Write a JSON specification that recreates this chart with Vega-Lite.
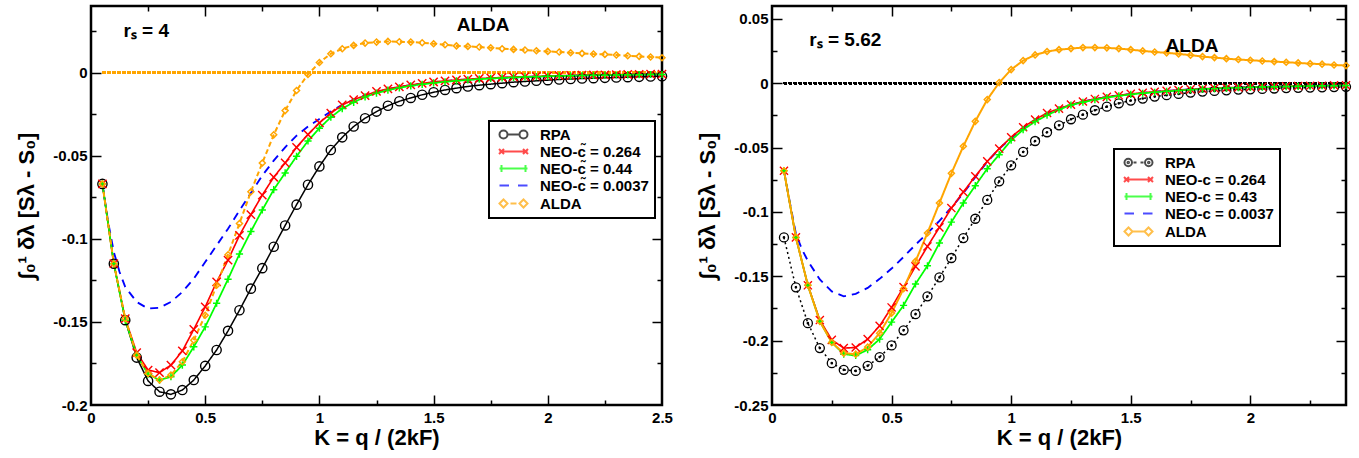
{
"$schema": "https://vega.github.io/schema/vega-lite/v6.json",
"padding": {"left": 14, "top": 4, "right": 5, "bottom": 5},
"spacing": 21,
"resolve": {"scale": {"color": "independent", "strokeDash": "independent", "strokeWidth": "independent", "shape": "independent", "size": "independent"}, "legend": {"color": "independent", "shape": "independent"}},
"config": {
  "font": "Liberation Sans",
  "view": {"stroke": "black", "strokeWidth": 2.5},
  "axis": {"labelFont": "Liberation Sans", "labelFontSize": 15, "labelFontWeight": "bold", "labelColor": "black", "titleFont": "Liberation Sans", "titleFontSize": 22, "titleFontWeight": "bold", "titleColor": "black", "tickColor": "black", "tickWidth": 1.5, "zindex": 2, "domain": false, "grid": false, "labelFlush": false, "labelOverlap": false, "labelBound": false},
  "legend": {"strokeWidth": 2}
},
"datasets": {
"left": [
{"s":"R","K":0.05,"v":-0.067},{"s":"R","K":0.1,"v":-0.115},{"s":"R","K":0.15,"v":-0.149},{"s":"R","K":0.2,"v":-0.1715},{"s":"R","K":0.25,"v":-0.1855},{"s":"R","K":0.3,"v":-0.192},{"s":"R","K":0.35,"v":-0.1936},{"s":"R","K":0.4,"v":-0.191},{"s":"R","K":0.45,"v":-0.185},{"s":"R","K":0.5,"v":-0.1765},{"s":"R","K":0.55,"v":-0.1669},{"s":"R","K":0.6,"v":-0.1554},{"s":"R","K":0.65,"v":-0.143},{"s":"R","K":0.7,"v":-0.13},{"s":"R","K":0.75,"v":-0.1177},{"s":"R","K":0.8,"v":-0.1048},{"s":"R","K":0.85,"v":-0.092},{"s":"R","K":0.9,"v":-0.0795},{"s":"R","K":0.95,"v":-0.0675},{"s":"R","K":1,"v":-0.0565},{"s":"R","K":1.05,"v":-0.0466},{"s":"R","K":1.1,"v":-0.039},{"s":"R","K":1.15,"v":-0.0325},{"s":"R","K":1.2,"v":-0.0275},{"s":"R","K":1.25,"v":-0.0235},{"s":"R","K":1.3,"v":-0.02},{"s":"R","K":1.35,"v":-0.0173},{"s":"R","K":1.4,"v":-0.0153},{"s":"R","K":1.45,"v":-0.0134},{"s":"R","K":1.5,"v":-0.0119},{"s":"R","K":1.55,"v":-0.0105},{"s":"R","K":1.6,"v":-0.0094},{"s":"R","K":1.65,"v":-0.0084},{"s":"R","K":1.7,"v":-0.0076},{"s":"R","K":1.75,"v":-0.007},{"s":"R","K":1.8,"v":-0.0064},{"s":"R","K":1.85,"v":-0.0058},{"s":"R","K":1.9,"v":-0.0054},{"s":"R","K":1.95,"v":-0.005},{"s":"R","K":2,"v":-0.0046},{"s":"R","K":2.05,"v":-0.0042},{"s":"R","K":2.1,"v":-0.0039},{"s":"R","K":2.15,"v":-0.0036},{"s":"R","K":2.2,"v":-0.0034},{"s":"R","K":2.25,"v":-0.0032},{"s":"R","K":2.3,"v":-0.003},{"s":"R","K":2.35,"v":-0.0028},{"s":"R","K":2.4,"v":-0.0026},{"s":"R","K":2.45,"v":-0.0024},{"s":"R","K":2.5,"v":-0.0022},
{"s":"C","K":0.05,"v":-0.067},{"s":"C","K":0.075,"v":-0.09},{"s":"C","K":0.1,"v":-0.108},{"s":"C","K":0.125,"v":-0.12},{"s":"C","K":0.15,"v":-0.129},{"s":"C","K":0.2,"v":-0.138},{"s":"C","K":0.25,"v":-0.142},{"s":"C","K":0.3,"v":-0.1415},{"s":"C","K":0.35,"v":-0.138},{"s":"C","K":0.4,"v":-0.132},{"s":"C","K":0.45,"v":-0.124},{"s":"C","K":0.5,"v":-0.114},{"s":"C","K":0.55,"v":-0.104},{"s":"C","K":0.6,"v":-0.094},{"s":"C","K":0.65,"v":-0.083},{"s":"C","K":0.7,"v":-0.0725},{"s":"C","K":0.75,"v":-0.062},{"s":"C","K":0.8,"v":-0.053},{"s":"C","K":0.85,"v":-0.045},{"s":"C","K":0.9,"v":-0.038},{"s":"C","K":0.95,"v":-0.0325},{"s":"C","K":1,"v":-0.028},{"s":"C","K":1.05,"v":-0.0235},{"s":"C","K":1.1,"v":-0.0195},{"s":"C","K":1.15,"v":-0.0163},{"s":"C","K":1.2,"v":-0.0138},{"s":"C","K":1.3,"v":-0.01},{"s":"C","K":1.4,"v":-0.0076},{"s":"C","K":1.5,"v":-0.0058},{"s":"C","K":1.6,"v":-0.0046},{"s":"C","K":1.75,"v":-0.0034},{"s":"C","K":2,"v":-0.0022},{"s":"C","K":2.25,"v":-0.0015},{"s":"C","K":2.5,"v":-0.001},
{"s":"A","K":0.05,"v":-0.067},{"s":"A","K":0.1,"v":-0.115},{"s":"A","K":0.15,"v":-0.148},{"s":"A","K":0.2,"v":-0.1685},{"s":"A","K":0.25,"v":-0.179},{"s":"A","K":0.3,"v":-0.1805},{"s":"A","K":0.35,"v":-0.176},{"s":"A","K":0.4,"v":-0.1675},{"s":"A","K":0.45,"v":-0.1545},{"s":"A","K":0.5,"v":-0.141},{"s":"A","K":0.55,"v":-0.126},{"s":"A","K":0.6,"v":-0.1128},{"s":"A","K":0.65,"v":-0.098},{"s":"A","K":0.7,"v":-0.0855},{"s":"A","K":0.75,"v":-0.0737},{"s":"A","K":0.8,"v":-0.063},{"s":"A","K":0.85,"v":-0.0544},{"s":"A","K":0.9,"v":-0.045},{"s":"A","K":0.95,"v":-0.0373},{"s":"A","K":1,"v":-0.0303},{"s":"A","K":1.05,"v":-0.0245},{"s":"A","K":1.1,"v":-0.0195},{"s":"A","K":1.15,"v":-0.0163},{"s":"A","K":1.2,"v":-0.0139},{"s":"A","K":1.25,"v":-0.0114},{"s":"A","K":1.3,"v":-0.0098},{"s":"A","K":1.35,"v":-0.0086},{"s":"A","K":1.4,"v":-0.0075},{"s":"A","K":1.45,"v":-0.0065},{"s":"A","K":1.5,"v":-0.0057},{"s":"A","K":1.55,"v":-0.005},{"s":"A","K":1.6,"v":-0.0045},{"s":"A","K":1.65,"v":-0.004},{"s":"A","K":1.7,"v":-0.0036},{"s":"A","K":1.75,"v":-0.0033},{"s":"A","K":1.8,"v":-0.003},{"s":"A","K":1.85,"v":-0.0027},{"s":"A","K":1.9,"v":-0.0025},{"s":"A","K":1.95,"v":-0.0023},{"s":"A","K":2,"v":-0.0021},{"s":"A","K":2.05,"v":-0.0019},{"s":"A","K":2.1,"v":-0.0018},{"s":"A","K":2.15,"v":-0.0016},{"s":"A","K":2.2,"v":-0.0015},{"s":"A","K":2.25,"v":-0.0014},{"s":"A","K":2.3,"v":-0.0013},{"s":"A","K":2.35,"v":-0.0012},{"s":"A","K":2.4,"v":-0.0011},{"s":"A","K":2.45,"v":-0.001},{"s":"A","K":2.5,"v":-0.001},
{"s":"B","K":0.05,"v":-0.067},{"s":"B","K":0.1,"v":-0.115},{"s":"B","K":0.15,"v":-0.149},{"s":"B","K":0.2,"v":-0.17},{"s":"B","K":0.25,"v":-0.1815},{"s":"B","K":0.3,"v":-0.185},{"s":"B","K":0.35,"v":-0.183},{"s":"B","K":0.4,"v":-0.176},{"s":"B","K":0.45,"v":-0.165},{"s":"B","K":0.5,"v":-0.153},{"s":"B","K":0.55,"v":-0.1388},{"s":"B","K":0.6,"v":-0.1243},{"s":"B","K":0.65,"v":-0.1092},{"s":"B","K":0.7,"v":-0.0956},{"s":"B","K":0.75,"v":-0.0827},{"s":"B","K":0.8,"v":-0.0705},{"s":"B","K":0.85,"v":-0.0604},{"s":"B","K":0.9,"v":-0.0504},{"s":"B","K":0.95,"v":-0.0412},{"s":"B","K":1,"v":-0.0335},{"s":"B","K":1.05,"v":-0.0269},{"s":"B","K":1.1,"v":-0.0217},{"s":"B","K":1.15,"v":-0.0179},{"s":"B","K":1.2,"v":-0.0147},{"s":"B","K":1.25,"v":-0.0124},{"s":"B","K":1.3,"v":-0.0106},{"s":"B","K":1.35,"v":-0.0092},{"s":"B","K":1.4,"v":-0.008},{"s":"B","K":1.45,"v":-0.0071},{"s":"B","K":1.5,"v":-0.0063},{"s":"B","K":1.55,"v":-0.0056},{"s":"B","K":1.6,"v":-0.005},{"s":"B","K":1.65,"v":-0.0045},{"s":"B","K":1.7,"v":-0.004},{"s":"B","K":1.75,"v":-0.0036},{"s":"B","K":1.8,"v":-0.0033},{"s":"B","K":1.85,"v":-0.003},{"s":"B","K":1.9,"v":-0.0027},{"s":"B","K":1.95,"v":-0.0025},{"s":"B","K":2,"v":-0.0023},{"s":"B","K":2.05,"v":-0.0021},{"s":"B","K":2.1,"v":-0.002},{"s":"B","K":2.15,"v":-0.0018},{"s":"B","K":2.2,"v":-0.0017},{"s":"B","K":2.25,"v":-0.0016},{"s":"B","K":2.3,"v":-0.0015},{"s":"B","K":2.35,"v":-0.0014},{"s":"B","K":2.4,"v":-0.0013},{"s":"B","K":2.45,"v":-0.0012},{"s":"B","K":2.5,"v":-0.0012},
{"s":"D","K":0.05,"v":-0.067},{"s":"D","K":0.1,"v":-0.115},{"s":"D","K":0.15,"v":-0.148},{"s":"D","K":0.2,"v":-0.17},{"s":"D","K":0.25,"v":-0.181},{"s":"D","K":0.3,"v":-0.185},{"s":"D","K":0.35,"v":-0.182},{"s":"D","K":0.4,"v":-0.174},{"s":"D","K":0.45,"v":-0.161},{"s":"D","K":0.5,"v":-0.146},{"s":"D","K":0.55,"v":-0.128},{"s":"D","K":0.6,"v":-0.1096},{"s":"D","K":0.65,"v":-0.0908},{"s":"D","K":0.7,"v":-0.0717},{"s":"D","K":0.75,"v":-0.0544},{"s":"D","K":0.8,"v":-0.0375},{"s":"D","K":0.85,"v":-0.0229},{"s":"D","K":0.9,"v":-0.0108},{"s":"D","K":0.95,"v":-0.0012},{"s":"D","K":1,"v":0.006},{"s":"D","K":1.05,"v":0.0113},{"s":"D","K":1.1,"v":0.0143},{"s":"D","K":1.15,"v":0.0163},{"s":"D","K":1.2,"v":0.0177},{"s":"D","K":1.25,"v":0.0183},{"s":"D","K":1.3,"v":0.0187},{"s":"D","K":1.35,"v":0.0185},{"s":"D","K":1.4,"v":0.0183},{"s":"D","K":1.45,"v":0.0179},{"s":"D","K":1.5,"v":0.0173},{"s":"D","K":1.55,"v":0.0167},{"s":"D","K":1.6,"v":0.016},{"s":"D","K":1.65,"v":0.0157},{"s":"D","K":1.7,"v":0.0153},{"s":"D","K":1.75,"v":0.0149},{"s":"D","K":1.8,"v":0.0143},{"s":"D","K":1.85,"v":0.0139},{"s":"D","K":1.9,"v":0.0135},{"s":"D","K":1.95,"v":0.0131},{"s":"D","K":2,"v":0.0127},{"s":"D","K":2.05,"v":0.0123},{"s":"D","K":2.1,"v":0.0119},{"s":"D","K":2.15,"v":0.0115},{"s":"D","K":2.2,"v":0.0111},{"s":"D","K":2.25,"v":0.0109},{"s":"D","K":2.3,"v":0.0105},{"s":"D","K":2.35,"v":0.0101},{"s":"D","K":2.4,"v":0.0097},{"s":"D","K":2.45,"v":0.0093},{"s":"D","K":2.5,"v":0.0089}
],
"right": [
{"s":"R","K":0.05,"v":-0.1198},{"s":"R","K":0.1,"v":-0.1586},{"s":"R","K":0.15,"v":-0.1864},{"s":"R","K":0.2,"v":-0.2058},{"s":"R","K":0.25,"v":-0.2175},{"s":"R","K":0.3,"v":-0.2227},{"s":"R","K":0.35,"v":-0.2235},{"s":"R","K":0.4,"v":-0.2196},{"s":"R","K":0.45,"v":-0.2128},{"s":"R","K":0.5,"v":-0.2037},{"s":"R","K":0.55,"v":-0.192},{"s":"R","K":0.6,"v":-0.1794},{"s":"R","K":0.65,"v":-0.1656},{"s":"R","K":0.7,"v":-0.1509},{"s":"R","K":0.75,"v":-0.1358},{"s":"R","K":0.8,"v":-0.1203},{"s":"R","K":0.85,"v":-0.1053},{"s":"R","K":0.9,"v":-0.0907},{"s":"R","K":0.95,"v":-0.0762},{"s":"R","K":1,"v":-0.0638},{"s":"R","K":1.05,"v":-0.0534},{"s":"R","K":1.1,"v":-0.0449},{"s":"R","K":1.15,"v":-0.0381},{"s":"R","K":1.2,"v":-0.0327},{"s":"R","K":1.25,"v":-0.028},{"s":"R","K":1.3,"v":-0.0244},{"s":"R","K":1.35,"v":-0.021},{"s":"R","K":1.4,"v":-0.0182},{"s":"R","K":1.45,"v":-0.0156},{"s":"R","K":1.5,"v":-0.0135},{"s":"R","K":1.55,"v":-0.0119},{"s":"R","K":1.6,"v":-0.0104},{"s":"R","K":1.65,"v":-0.0093},{"s":"R","K":1.7,"v":-0.0083},{"s":"R","K":1.75,"v":-0.0073},{"s":"R","K":1.8,"v":-0.0065},{"s":"R","K":1.85,"v":-0.006},{"s":"R","K":1.9,"v":-0.0055},{"s":"R","K":1.95,"v":-0.0049},{"s":"R","K":2,"v":-0.0047},{"s":"R","K":2.05,"v":-0.0044},{"s":"R","K":2.1,"v":-0.0041},{"s":"R","K":2.15,"v":-0.0038},{"s":"R","K":2.2,"v":-0.0036},{"s":"R","K":2.25,"v":-0.0034},{"s":"R","K":2.3,"v":-0.0032},{"s":"R","K":2.35,"v":-0.003},{"s":"R","K":2.4,"v":-0.0028},
{"s":"C","K":0.05,"v":-0.068},{"s":"C","K":0.075,"v":-0.093},{"s":"C","K":0.1,"v":-0.117},{"s":"C","K":0.125,"v":-0.129},{"s":"C","K":0.15,"v":-0.138},{"s":"C","K":0.2,"v":-0.1525},{"s":"C","K":0.25,"v":-0.1617},{"s":"C","K":0.3,"v":-0.1656},{"s":"C","K":0.35,"v":-0.1636},{"s":"C","K":0.4,"v":-0.159},{"s":"C","K":0.45,"v":-0.152},{"s":"C","K":0.5,"v":-0.144},{"s":"C","K":0.55,"v":-0.135},{"s":"C","K":0.6,"v":-0.1255},{"s":"C","K":0.65,"v":-0.1165},{"s":"C","K":0.7,"v":-0.107},{"s":"C","K":0.75,"v":-0.0965},{"s":"C","K":0.8,"v":-0.0855},{"s":"C","K":0.85,"v":-0.073},{"s":"C","K":0.9,"v":-0.061},{"s":"C","K":0.95,"v":-0.051},{"s":"C","K":1,"v":-0.0425},{"s":"C","K":1.05,"v":-0.035},{"s":"C","K":1.1,"v":-0.0285},{"s":"C","K":1.15,"v":-0.0235},{"s":"C","K":1.2,"v":-0.0198},{"s":"C","K":1.3,"v":-0.0142},{"s":"C","K":1.4,"v":-0.0106},{"s":"C","K":1.5,"v":-0.0083},{"s":"C","K":1.6,"v":-0.0066},{"s":"C","K":1.75,"v":-0.0048},{"s":"C","K":2,"v":-0.003},{"s":"C","K":2.2,"v":-0.0022},{"s":"C","K":2.4,"v":-0.0016},
{"s":"A","K":0.05,"v":-0.068},{"s":"A","K":0.1,"v":-0.1198},{"s":"A","K":0.15,"v":-0.157},{"s":"A","K":0.2,"v":-0.184},{"s":"A","K":0.25,"v":-0.1994},{"s":"A","K":0.3,"v":-0.2058},{"s":"A","K":0.35,"v":-0.2053},{"s":"A","K":0.4,"v":-0.1988},{"s":"A","K":0.45,"v":-0.1885},{"s":"A","K":0.5,"v":-0.1742},{"s":"A","K":0.55,"v":-0.1584},{"s":"A","K":0.6,"v":-0.1423},{"s":"A","K":0.65,"v":-0.1268},{"s":"A","K":0.7,"v":-0.112},{"s":"A","K":0.75,"v":-0.097},{"s":"A","K":0.8,"v":-0.0845},{"s":"A","K":0.85,"v":-0.0723},{"s":"A","K":0.9,"v":-0.0607},{"s":"A","K":0.95,"v":-0.0508},{"s":"A","K":1,"v":-0.042},{"s":"A","K":1.05,"v":-0.0342},{"s":"A","K":1.1,"v":-0.0282},{"s":"A","K":1.15,"v":-0.0231},{"s":"A","K":1.2,"v":-0.0197},{"s":"A","K":1.25,"v":-0.0166},{"s":"A","K":1.3,"v":-0.0142},{"s":"A","K":1.35,"v":-0.0122},{"s":"A","K":1.4,"v":-0.0106},{"s":"A","K":1.45,"v":-0.0094},{"s":"A","K":1.5,"v":-0.0083},{"s":"A","K":1.55,"v":-0.0074},{"s":"A","K":1.6,"v":-0.0066},{"s":"A","K":1.65,"v":-0.0059},{"s":"A","K":1.7,"v":-0.0053},{"s":"A","K":1.75,"v":-0.0048},{"s":"A","K":1.8,"v":-0.0043},{"s":"A","K":1.85,"v":-0.0039},{"s":"A","K":1.9,"v":-0.0035},{"s":"A","K":1.95,"v":-0.0032},{"s":"A","K":2,"v":-0.003},{"s":"A","K":2.05,"v":-0.0028},{"s":"A","K":2.1,"v":-0.0026},{"s":"A","K":2.15,"v":-0.0024},{"s":"A","K":2.2,"v":-0.0022},{"s":"A","K":2.25,"v":-0.002},{"s":"A","K":2.3,"v":-0.0019},{"s":"A","K":2.35,"v":-0.0017},{"s":"A","K":2.4,"v":-0.0016},
{"s":"B","K":0.05,"v":-0.068},{"s":"B","K":0.1,"v":-0.1198},{"s":"B","K":0.15,"v":-0.157},{"s":"B","K":0.2,"v":-0.185},{"s":"B","K":0.25,"v":-0.2014},{"s":"B","K":0.3,"v":-0.2105},{"s":"B","K":0.35,"v":-0.2115},{"s":"B","K":0.4,"v":-0.2071},{"s":"B","K":0.45,"v":-0.1988},{"s":"B","K":0.5,"v":-0.1856},{"s":"B","K":0.55,"v":-0.1726},{"s":"B","K":0.6,"v":-0.156},{"s":"B","K":0.65,"v":-0.1418},{"s":"B","K":0.7,"v":-0.1242},{"s":"B","K":0.75,"v":-0.1079},{"s":"B","K":0.8,"v":-0.0931},{"s":"B","K":0.85,"v":-0.0796},{"s":"B","K":0.9,"v":-0.0664},{"s":"B","K":0.95,"v":-0.0555},{"s":"B","K":1,"v":-0.0443},{"s":"B","K":1.05,"v":-0.0361},{"s":"B","K":1.1,"v":-0.0298},{"s":"B","K":1.15,"v":-0.0249},{"s":"B","K":1.2,"v":-0.0205},{"s":"B","K":1.25,"v":-0.0169},{"s":"B","K":1.3,"v":-0.0148},{"s":"B","K":1.35,"v":-0.0128},{"s":"B","K":1.4,"v":-0.0111},{"s":"B","K":1.45,"v":-0.0098},{"s":"B","K":1.5,"v":-0.0087},{"s":"B","K":1.55,"v":-0.0078},{"s":"B","K":1.6,"v":-0.007},{"s":"B","K":1.65,"v":-0.0063},{"s":"B","K":1.7,"v":-0.0057},{"s":"B","K":1.75,"v":-0.0051},{"s":"B","K":1.8,"v":-0.0046},{"s":"B","K":1.85,"v":-0.0042},{"s":"B","K":1.9,"v":-0.0038},{"s":"B","K":1.95,"v":-0.0035},{"s":"B","K":2,"v":-0.0032},{"s":"B","K":2.05,"v":-0.003},{"s":"B","K":2.1,"v":-0.0028},{"s":"B","K":2.15,"v":-0.0026},{"s":"B","K":2.2,"v":-0.0024},{"s":"B","K":2.25,"v":-0.0022},{"s":"B","K":2.3,"v":-0.002},{"s":"B","K":2.35,"v":-0.0019},{"s":"B","K":2.4,"v":-0.0018},
{"s":"D","K":0.05,"v":-0.068},{"s":"D","K":0.1,"v":-0.1198},{"s":"D","K":0.15,"v":-0.157},{"s":"D","K":0.2,"v":-0.185},{"s":"D","K":0.25,"v":-0.2014},{"s":"D","K":0.3,"v":-0.2097},{"s":"D","K":0.35,"v":-0.2105},{"s":"D","K":0.4,"v":-0.205},{"s":"D","K":0.45,"v":-0.1942},{"s":"D","K":0.5,"v":-0.1786},{"s":"D","K":0.55,"v":-0.1597},{"s":"D","K":0.6,"v":-0.1384},{"s":"D","K":0.65,"v":-0.1164},{"s":"D","K":0.7,"v":-0.0931},{"s":"D","K":0.75,"v":-0.07},{"s":"D","K":0.8,"v":-0.049},{"s":"D","K":0.85,"v":-0.0296},{"s":"D","K":0.9,"v":-0.0127},{"s":"D","K":0.95,"v":0.0005},{"s":"D","K":1,"v":0.0106},{"s":"D","K":1.05,"v":0.0176},{"s":"D","K":1.1,"v":0.022},{"s":"D","K":1.15,"v":0.0246},{"s":"D","K":1.2,"v":0.0261},{"s":"D","K":1.25,"v":0.0269},{"s":"D","K":1.3,"v":0.0277},{"s":"D","K":1.35,"v":0.0277},{"s":"D","K":1.4,"v":0.0275},{"s":"D","K":1.45,"v":0.0269},{"s":"D","K":1.5,"v":0.0261},{"s":"D","K":1.55,"v":0.0251},{"s":"D","K":1.6,"v":0.0243},{"s":"D","K":1.65,"v":0.0236},{"s":"D","K":1.7,"v":0.0228},{"s":"D","K":1.75,"v":0.0218},{"s":"D","K":1.8,"v":0.0207},{"s":"D","K":1.85,"v":0.0199},{"s":"D","K":1.9,"v":0.0191},{"s":"D","K":1.95,"v":0.0184},{"s":"D","K":2,"v":0.0179},{"s":"D","K":2.05,"v":0.0173},{"s":"D","K":2.1,"v":0.0168},{"s":"D","K":2.15,"v":0.0163},{"s":"D","K":2.2,"v":0.0158},{"s":"D","K":2.25,"v":0.0152},{"s":"D","K":2.3,"v":0.0148},{"s":"D","K":2.35,"v":0.0142},{"s":"D","K":2.4,"v":0.0137}
]
},
"hconcat": [
{
  "width": 571, "height": 399,
  "data": {"name": "left"},
  "resolve": {"scale": {"color": "independent", "shape": "independent", "strokeWidth": "independent"}, "axis": {"x": "independent", "y": "independent"}},
  "layer": [
    {"mark": {"type": "rule", "color": "#ffa500", "strokeDash": [3, 2], "strokeWidth": 1.5},
     "encoding": {"x": {"datum": 0.05, "type": "quantitative", "scale": {"domain": [0, 2.5], "nice": false}, "axis": null}, "x2": {"datum": 2.5}, "y": {"datum": 0, "type": "quantitative", "scale": {"domain": [-0.2, 0.04], "nice": false}, "axis": null}}},
    {"mark": {"type": "line", "clip": true},
     "encoding": {
       "x": {"field": "K", "type": "quantitative", "scale": {"domain": [0, 2.5], "nice": false}, "axis": {"orient": "bottom", "values": [0, 0.5, 1, 1.5, 2, 2.5], "ticks": false, "labelPadding": 5, "labelExpr": "replace(format(datum.value, '.2~f'), '−', '-')", "title": "K = q / (2kF)", "titlePadding": 2}},
       "y": {"field": "v", "type": "quantitative", "scale": {"domain": [-0.2, 0.04], "nice": false}, "axis": {"orient": "left", "values": [0, -0.05, -0.1, -0.15, -0.2], "ticks": false, "labelPadding": 4, "labelExpr": "replace(format(datum.value, '.2~f'), '−', '-')", "title": "∫₀¹ δλ  [Sλ - S₀]", "titlePadding": 14}},
       "color": {"field": "s", "type": "nominal", "scale": {"domain": ["R", "A", "B", "C", "D"], "range": ["#000000", "#ff0000", "#00ff00", "#0000ff", "#ffa500"]}, "legend": null},
       "strokeDash": {"field": "s", "type": "nominal", "scale": {"domain": ["R", "A", "B", "C", "D"], "range": [[1, 0], [1, 0], [1, 0], [8, 6], [5, 3]]}, "legend": null},
       "strokeWidth": {"field": "s", "type": "nominal", "scale": {"domain": ["R", "A", "B", "C", "D"], "range": [1.5, 2, 2.5, 1.5, 1]}, "legend": null}
     }},
    {"transform": [{"filter": "datum.s != 'C'"}],
     "mark": {"type": "point", "filled": false, "opacity": 1},
     "encoding": {
       "x": {"field": "K", "type": "quantitative", "scale": {"domain": [0, 2.5], "nice": false}, "axis": {"orient": "top", "offset": -399, "values": [0.5, 1, 1.5, 2], "tickSize": 10, "labels": false, "title": null}},
       "y": {"field": "v", "type": "quantitative", "scale": {"domain": [-0.2, 0.04], "nice": false}, "axis": {"orient": "right", "offset": -571, "values": [0, -0.05, -0.1, -0.15], "tickSize": 10, "labels": false, "title": null}},
       "color": {"field": "s", "type": "nominal", "scale": {"domain": ["R", "A", "B", "C", "D"], "range": ["#000000", "#ff0000", "#00ff00", "#0000ff", "#ffa500"]}, "legend": null},
       "shape": {"field": "s", "type": "nominal", "scale": {"domain": ["R", "A", "B", "D"], "range": ["circle", "M -1 -1 L 1 1 M -1 1 L 1 -1", "M -1 0 L 1 0 M 0 -1 L 0 1", "diamond"]}, "legend": null},
       "size": {"field": "s", "type": "nominal", "scale": {"domain": ["R", "A", "B", "D"], "range": [85, 36, 49, 110]}, "legend": null},
       "strokeWidth": {"field": "s", "type": "nominal", "scale": {"domain": ["R", "A", "B", "D"], "range": [1.4, 1.5, 2.5, 1.5]}, "legend": null}
     }},
    {"data": {"values": [{"K": 0.142, "v": 0.0247, "t": "rₛ = 4"}]},
     "mark": {"type": "text", "align": "left", "baseline": "middle", "fontSize": 19, "fontWeight": "bold", "font": "Liberation Sans", "color": "black"},
     "encoding": {
       "x": {"field": "K", "type": "quantitative", "scale": {"domain": [0, 2.5], "nice": false}, "axis": {"orient": "bottom", "offset": -399, "values": [0.5, 1, 1.5, 2], "tickSize": 10, "labels": false, "title": null}},
       "y": {"field": "v", "type": "quantitative", "scale": {"domain": [-0.2, 0.04], "nice": false}, "axis": {"orient": "left", "offset": -571, "values": [0, -0.05, -0.1, -0.15], "tickSize": 10, "labels": false, "title": null}},
       "text": {"field": "t"}
     }},
    {"data": {"values": [{"K": 1.717, "v": 0.0283, "t": "ALDA"}]},
     "mark": {"type": "text", "align": "center", "baseline": "middle", "fontSize": 19, "fontWeight": "bold", "font": "Liberation Sans", "color": "black"},
     "encoding": {
       "x": {"field": "K", "type": "quantitative", "scale": {"domain": [0, 2.5], "nice": false}, "axis": {"orient": "top", "offset": -399, "values": [0.25, 0.75, 1.25, 1.75, 2.25], "tickSize": 5, "labels": false, "title": null}},
       "y": {"field": "v", "type": "quantitative", "scale": {"domain": [-0.2, 0.04], "nice": false}, "axis": {"orient": "right", "offset": -571, "values": [0.025, -0.025, -0.075, -0.125, -0.175], "tickSize": 5, "labels": false, "title": null}},
       "text": {"field": "t"}
     }},
    {"transform": [{"filter": "datum.K < 0"}],
     "mark": {"type": "point", "filled": false},
     "encoding": {
       "x": {"field": "K", "type": "quantitative", "scale": {"domain": [0, 2.5], "nice": false}, "axis": {"orient": "bottom", "offset": -399, "values": [0.25, 0.75, 1.25, 1.75, 2.25], "tickSize": 5, "labels": false, "title": null}},
       "y": {"field": "v", "type": "quantitative", "scale": {"domain": [-0.2, 0.04], "nice": false}, "axis": {"orient": "left", "offset": -571, "values": [0.025, -0.025, -0.075, -0.125, -0.175], "tickSize": 5, "labels": false, "title": null}},
       "shape": {"field": "s", "type": "nominal", "scale": {"domain": ["R", "A", "B", "C", "D"], "range": [
         "M -2.8 0 A 0.8 0.8 0 1 0 -1.2 0 A 0.8 0.8 0 1 0 -2.8 0 Z M -1.2 0 L 1.2 0 M 1.2 0 A 0.8 0.8 0 1 0 2.8 0 A 0.8 0.8 0 1 0 1.2 0 Z",
         "M -2.8 0 L 2.8 0 M -2.9 -0.5 L -1.9 0.5 M -2.9 0.5 L -1.9 -0.5 M 1.9 -0.5 L 2.9 0.5 M 1.9 0.5 L 2.9 -0.5",
         "M -2.8 0 L 2.8 0 M -2.4 -0.7 L -2.4 0.7 M 2.4 -0.7 L 2.4 0.7",
         "M -2.8 0 L -0.9 0 M 0.9 0 L 2.8 0",
         "M -2.8 0 L -2.0 -0.8 L -1.2 0 L -2.0 0.8 Z M -0.6 0 L 0.6 0 M 1.2 0 L 2.0 -0.8 L 2.8 0 L 2.0 0.8 Z"]},
         "legend": {"orient": "none", "legendX": 398, "legendY": 115, "title": null, "labelExpr": "datum.label == 'R' ? 'RPA' : datum.label == 'A' ? 'NEO-c̃ = 0.264' : datum.label == 'B' ? 'NEO-c̃ = 0.44' : datum.label == 'C' ? 'NEO-c̃ = 0.0037' : 'ALDA'", "symbolSize": 100, "symbolStrokeWidth": 2, "symbolOffset": 11, "labelOffset": 19, "padding": 6, "rowPadding": 1, "strokeColor": "black", "fillColor": "white", "labelFontSize": 15, "labelFontWeight": "bold", "labelFont": "Liberation Sans", "labelColor": "black"}},
       "color": {"field": "s", "type": "nominal", "scale": {"domain": ["R", "A", "B", "C", "D"], "range": ["#000000", "#ff0000", "#00ff00", "#0000ff", "#ffa500"]},
         "legend": {"orient": "none", "legendX": 398, "legendY": 115, "title": null, "labelExpr": "datum.label == 'R' ? 'RPA' : datum.label == 'A' ? 'NEO-c̃ = 0.264' : datum.label == 'B' ? 'NEO-c̃ = 0.44' : datum.label == 'C' ? 'NEO-c̃ = 0.0037' : 'ALDA'", "symbolSize": 100, "symbolStrokeWidth": 2, "symbolOffset": 11, "labelOffset": 19, "padding": 6, "rowPadding": 1, "strokeColor": "black", "fillColor": "white", "labelFontSize": 15, "labelFontWeight": "bold", "labelFont": "Liberation Sans", "labelColor": "black"}}
     }}
  ]
},
{
  "width": 574, "height": 399,
  "data": {"name": "right"},
  "resolve": {"scale": {"color": "independent", "shape": "independent", "strokeWidth": "independent"}, "axis": {"x": "independent", "y": "independent"}},
  "layer": [
    {"mark": {"type": "rule", "color": "black", "strokeDash": [3, 2], "strokeWidth": 2.5},
     "encoding": {"x": {"datum": 0.05, "type": "quantitative", "scale": {"domain": [0, 2.4], "nice": false}, "axis": null}, "x2": {"datum": 2.4}, "y": {"datum": 0, "type": "quantitative", "scale": {"domain": [-0.25, 0.06], "nice": false}, "axis": null}}},
    {"mark": {"type": "line", "clip": true},
     "encoding": {
       "x": {"field": "K", "type": "quantitative", "scale": {"domain": [0, 2.4], "nice": false}, "axis": {"orient": "bottom", "values": [0, 0.5, 1, 1.5, 2], "ticks": false, "labelPadding": 5, "labelExpr": "replace(format(datum.value, '.2~f'), '−', '-')", "title": "K = q / (2kF)", "titlePadding": 2}},
       "y": {"field": "v", "type": "quantitative", "scale": {"domain": [-0.25, 0.06], "nice": false}, "axis": {"orient": "left", "values": [0.05, 0, -0.05, -0.1, -0.15, -0.2, -0.25], "ticks": false, "labelPadding": 4, "labelExpr": "replace(format(datum.value, '.2~f'), '−', '-')", "title": "∫₀¹ δλ  [Sλ - S₀]", "titlePadding": 14}},
       "color": {"field": "s", "type": "nominal", "scale": {"domain": ["R", "A", "B", "C", "D"], "range": ["#000000", "#ff0000", "#00ff00", "#0000ff", "#ffa500"]}, "legend": null},
       "strokeDash": {"field": "s", "type": "nominal", "scale": {"domain": ["R", "A", "B", "C", "D"], "range": [[2, 3], [1, 0], [1, 0], [8, 6], [1, 0]]}, "legend": null},
       "strokeWidth": {"field": "s", "type": "nominal", "scale": {"domain": ["R", "A", "B", "C", "D"], "range": [1.5, 2, 1.5, 2, 2]}, "legend": null}
     }},
    {"transform": [{"filter": "datum.s != 'C'"}],
     "mark": {"type": "point", "filled": false, "opacity": 1},
     "encoding": {
       "x": {"field": "K", "type": "quantitative", "scale": {"domain": [0, 2.4], "nice": false}, "axis": {"orient": "top", "offset": -399, "values": [0.5, 1, 1.5, 2], "tickSize": 10, "labels": false, "title": null}},
       "y": {"field": "v", "type": "quantitative", "scale": {"domain": [-0.25, 0.06], "nice": false}, "axis": {"orient": "right", "offset": -574, "values": [0.05, 0, -0.05, -0.1, -0.15, -0.2], "tickSize": 10, "labels": false, "title": null}},
       "color": {"field": "s", "type": "nominal", "scale": {"domain": ["R", "A", "B", "C", "D"], "range": ["#000000", "#ff0000", "#00ff00", "#0000ff", "#ffa500"]}, "legend": null},
       "shape": {"field": "s", "type": "nominal", "scale": {"domain": ["R", "A", "B", "D"], "range": ["M -1 0 A 1 1 0 1 0 1 0 A 1 1 0 1 0 -1 0 Z M -0.15 0 A 0.15 0.15 0 1 0 0.15 0 A 0.15 0.15 0 1 0 -0.15 0 Z", "M -1 -1 L 1 1 M -1 1 L 1 -1", "M -1 0 L 1 0 M 0 -1 L 0 1", "diamond"]}, "legend": null},
       "size": {"field": "s", "type": "nominal", "scale": {"domain": ["R", "A", "B", "D"], "range": [81, 36, 49, 95]}, "legend": null},
       "strokeWidth": {"field": "s", "type": "nominal", "scale": {"domain": ["R", "A", "B", "D"], "range": [1.3, 1.5, 2, 1.5]}, "legend": null}
     }},
    {"data": {"values": [{"K": 0.156, "v": 0.0337, "t": "rₛ = 5.62"}]},
     "mark": {"type": "text", "align": "left", "baseline": "middle", "fontSize": 19, "fontWeight": "bold", "font": "Liberation Sans", "color": "black"},
     "encoding": {
       "x": {"field": "K", "type": "quantitative", "scale": {"domain": [0, 2.4], "nice": false}, "axis": {"orient": "bottom", "offset": -399, "values": [0.5, 1, 1.5, 2], "tickSize": 10, "labels": false, "title": null}},
       "y": {"field": "v", "type": "quantitative", "scale": {"domain": [-0.25, 0.06], "nice": false}, "axis": {"orient": "left", "offset": -574, "values": [0.05, 0, -0.05, -0.1, -0.15, -0.2], "tickSize": 10, "labels": false, "title": null}},
       "text": {"field": "t"}
     }},
    {"data": {"values": [{"K": 1.756, "v": 0.0286, "t": "ALDA"}]},
     "mark": {"type": "text", "align": "center", "baseline": "middle", "fontSize": 19, "fontWeight": "bold", "font": "Liberation Sans", "color": "black"},
     "encoding": {
       "x": {"field": "K", "type": "quantitative", "scale": {"domain": [0, 2.4], "nice": false}, "axis": {"orient": "top", "offset": -399, "values": [0.25, 0.75, 1.25, 1.75, 2.25], "tickSize": 5, "labels": false, "title": null}},
       "y": {"field": "v", "type": "quantitative", "scale": {"domain": [-0.25, 0.06], "nice": false}, "axis": {"orient": "right", "offset": -574, "values": [0.025, -0.025, -0.075, -0.125, -0.175, -0.225], "tickSize": 5, "labels": false, "title": null}},
       "text": {"field": "t"}
     }},
    {"transform": [{"filter": "datum.K < 0"}],
     "mark": {"type": "point", "filled": false},
     "encoding": {
       "x": {"field": "K", "type": "quantitative", "scale": {"domain": [0, 2.4], "nice": false}, "axis": {"orient": "bottom", "offset": -399, "values": [0.25, 0.75, 1.25, 1.75, 2.25], "tickSize": 5, "labels": false, "title": null}},
       "y": {"field": "v", "type": "quantitative", "scale": {"domain": [-0.25, 0.06], "nice": false}, "axis": {"orient": "left", "offset": -574, "values": [0.025, -0.025, -0.075, -0.125, -0.175, -0.225], "tickSize": 5, "labels": false, "title": null}},
       "shape": {"field": "s", "type": "nominal", "scale": {"domain": ["R", "A", "B", "C", "D"], "range": [
         "M -2.8 0 A 0.75 0.75 0 1 0 -1.3 0 A 0.75 0.75 0 1 0 -2.8 0 Z M -2.2 0 A 0.15 0.15 0 1 0 -1.9 0 A 0.15 0.15 0 1 0 -2.2 0 Z M -1.0 0 L -0.4 0 M 0.4 0 L 1.0 0 M 1.3 0 A 0.75 0.75 0 1 0 2.8 0 A 0.75 0.75 0 1 0 1.3 0 Z M 1.9 0 A 0.15 0.15 0 1 0 2.2 0 A 0.15 0.15 0 1 0 1.9 0 Z",
         "M -2.8 0 L 2.8 0 M -2.9 -0.5 L -1.9 0.5 M -2.9 0.5 L -1.9 -0.5 M 1.9 -0.5 L 2.9 0.5 M 1.9 0.5 L 2.9 -0.5",
         "M -2.8 0 L 2.8 0 M -2.4 -0.7 L -2.4 0.7 M 2.4 -0.7 L 2.4 0.7",
         "M -2.8 0 L -0.9 0 M 0.9 0 L 2.8 0",
         "M -2.8 0 L -2.0 -0.8 L -1.2 0 L -2.0 0.8 Z M -1.2 0 L 1.2 0 M 1.2 0 L 2.0 -0.8 L 2.8 0 L 2.0 0.8 Z"]},
         "legend": {"orient": "none", "legendX": 342, "legendY": 143, "title": null, "labelExpr": "datum.label == 'R' ? 'RPA' : datum.label == 'A' ? 'NEO-c = 0.264' : datum.label == 'B' ? 'NEO-c = 0.43' : datum.label == 'C' ? 'NEO-c = 0.0037' : 'ALDA'", "symbolSize": 100, "symbolStrokeWidth": 2, "symbolOffset": 11, "labelOffset": 19, "padding": 6, "rowPadding": 1, "strokeColor": "black", "fillColor": "white", "labelFontSize": 15, "labelFontWeight": "bold", "labelFont": "Liberation Sans", "labelColor": "black"}},
       "color": {"field": "s", "type": "nominal", "scale": {"domain": ["R", "A", "B", "C", "D"], "range": ["#000000", "#ff0000", "#00ff00", "#0000ff", "#ffa500"]},
         "legend": {"orient": "none", "legendX": 342, "legendY": 143, "title": null, "labelExpr": "datum.label == 'R' ? 'RPA' : datum.label == 'A' ? 'NEO-c = 0.264' : datum.label == 'B' ? 'NEO-c = 0.43' : datum.label == 'C' ? 'NEO-c = 0.0037' : 'ALDA'", "symbolSize": 100, "symbolStrokeWidth": 2, "symbolOffset": 11, "labelOffset": 19, "padding": 6, "rowPadding": 1, "strokeColor": "black", "fillColor": "white", "labelFontSize": 15, "labelFontWeight": "bold", "labelFont": "Liberation Sans", "labelColor": "black"}}
     }}
  ]
}
]
}
